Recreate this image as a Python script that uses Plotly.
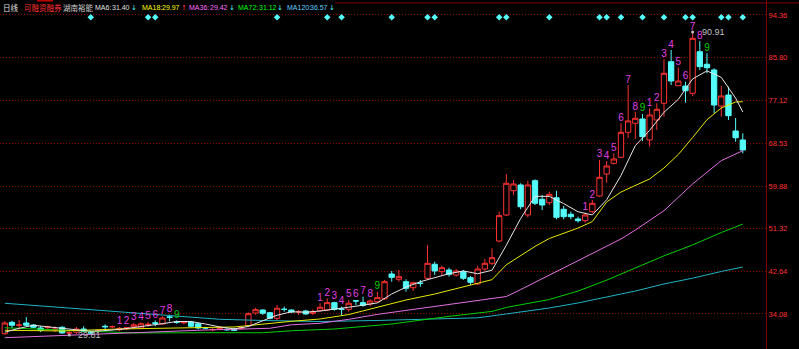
import plotly.graph_objects as go

# ---------------- data ----------------
days = list(range(104))
opens = [30.10, 32.40, 31.80, 32.26, 31.86, 31.26, 31.30, 30.80, 31.40, 30.25,
         30.40, 31.05, 30.30, 30.60, 31.60, 31.50, 30.90, 31.10, 31.50, 31.26,
         31.90, 32.30, 32.06, 33.50, 32.50, 32.30, 32.46, 32.10, 31.30, 30.90,
         31.10, 31.00, 31.05, 31.20, 31.70, 34.28, 34.88, 34.34, 33.21, 35.05,
         34.88, 34.50, 34.68, 34.22, 34.75, 34.88, 36.36, 35.10, 35.02, 36.75,
         36.36, 36.10, 36.56, 37.14, 42.14, 41.07, 40.59, 39.38, 40.30, 41.27,
         44.10, 42.61, 42.95, 41.94, 42.61, 41.40, 40.14, 43.15, 44.30, 48.79,
         54.04, 58.93, 60.09, 54.04, 60.95, 57.20, 56.52, 57.52, 55.19, 54.18,
         53.23, 52.89, 54.70, 57.87, 62.30, 64.46, 65.67, 70.71, 72.52, 73.39,
         69.16, 73.19, 76.56, 84.94, 80.10, 80.04, 78.57, 86.96, 84.42, 83.27,
         76.01, 78.23, 70.97, 69.16]
highs = [32.66, 32.70, 32.90, 33.45, 32.05, 31.66, 31.70, 31.60, 31.60, 30.60,
         31.46, 31.60, 30.70, 31.00, 32.00, 31.80, 31.46, 31.46, 32.30, 32.40,
         32.50, 32.80, 33.60, 33.95, 32.80, 32.60, 32.70, 32.30, 31.50, 31.30,
         31.60, 31.20, 31.30, 31.60, 34.40, 35.30, 35.00, 34.50, 35.89, 35.55,
         35.00, 34.88, 34.90, 35.02, 36.24, 37.24, 36.56, 35.55, 36.90, 36.90,
         37.57, 37.04, 38.58, 40.94, 42.75, 42.95, 41.07, 40.59, 40.94, 47.99,
         44.62, 43.81, 43.41, 43.15, 42.95, 41.74, 43.81, 45.17, 47.32, 54.70,
         62.30, 61.10, 60.43, 60.95, 61.23, 58.07, 58.73, 58.93, 55.85, 54.70,
         53.70, 54.50, 57.06, 65.13, 64.92, 66.47, 72.52, 80.24, 74.80, 74.40,
         75.55, 76.56, 85.43, 87.30, 83.73, 80.91, 90.91, 89.10, 86.63, 83.61,
         80.04, 79.90, 73.60, 70.50]
lows = [29.90, 31.25, 30.90, 31.60, 31.25, 30.45, 31.10, 30.40, 30.10, 29.84,
        30.05, 30.40, 29.90, 30.30, 30.60, 31.20, 30.60, 30.80, 31.00, 31.00,
        31.50, 31.60, 31.90, 32.60, 32.10, 32.00, 31.40, 31.00, 31.00, 30.60,
        30.90, 30.70, 30.60, 30.90, 31.46, 33.95, 33.90, 33.00, 32.87, 34.54,
        34.30, 33.88, 33.90, 33.88, 34.54, 34.68, 34.75, 33.88, 34.54, 35.89,
        35.55, 35.69, 36.36, 36.90, 40.59, 40.59, 38.58, 38.72, 39.58, 40.94,
        41.94, 41.74, 41.60, 41.60, 40.94, 39.93, 39.93, 42.75, 43.95, 48.53,
        53.80, 58.07, 55.19, 53.57, 56.05, 55.05, 56.05, 53.17, 53.17, 53.17,
        52.49, 52.49, 54.38, 57.67, 60.55, 64.20, 65.50, 69.56, 69.36, 68.96,
        67.80, 71.17, 73.86, 80.24, 80.04, 76.68, 78.03, 83.27, 82.60, 74.54,
        73.86, 73.19, 68.81, 66.47]
closes = [32.26, 31.80, 31.85, 31.80, 31.40, 30.80, 31.45, 31.05, 30.25, 30.30,
          31.05, 30.60, 30.25, 30.70, 31.50, 31.52, 31.20, 31.30, 31.90, 32.10,
          32.00, 32.20, 33.27, 33.40, 32.40, 32.45, 31.60, 31.26, 31.25, 30.95,
          31.30, 30.90, 30.80, 31.25, 34.14, 34.95, 34.22, 33.21, 35.23, 35.00,
          34.48, 34.56, 34.08, 34.54, 35.43, 36.36, 35.02, 35.02, 36.24, 36.70,
          35.83, 36.70, 37.37, 40.59, 41.47, 41.60, 39.26, 40.39, 40.25, 44.30,
          42.75, 43.41, 42.08, 42.75, 41.27, 40.47, 43.15, 44.30, 45.43, 53.90,
          60.43, 60.29, 55.71, 60.09, 56.40, 56.05, 58.20, 53.57, 53.70, 53.70,
          52.89, 54.04, 56.40, 61.64, 63.92, 65.33, 70.71, 73.00, 73.53, 69.82,
          74.20, 75.35, 82.60, 81.05, 81.05, 79.09, 89.66, 83.94, 83.73, 76.21,
          78.03, 74.06, 69.62, 67.14]

# moving averages
ma6_days = list(range(0, 104, 2)) + [103]
ma6 = [30.4, 31.2, 31.8, 31.52, 31.13, 30.82, 30.58, 30.73, 30.96, 31.35,
       31.67, 32.13, 32.56, 32.55, 32.06, 31.47, 31.08, 31.56, 32.71, 33.83,
       34.52, 34.43, 34.68, 35.00, 35.44, 35.86, 36.31, 38.11, 39.50, 40.59,
       41.43, 42.20, 42.76, 42.19, 42.90, 47.95, 53.34, 57.80, 57.79, 56.34,
       54.69, 54.05, 57.10, 62.00, 68.02, 71.10, 74.75, 77.35, 81.47, 83.09,
       81.78, 77.60, 74.80]
ma18_days = [0, 8, 16, 24, 32, 40, 44, 48, 52, 56, 60, 64, 68, 70, 72, 74, 76, 78,
             80, 82, 84, 86, 88, 90, 92, 94, 96, 98, 100, 102, 103]
ma18 = [30.8, 30.65, 31.05, 31.3, 31.46, 32.6, 33.07, 33.97, 35.5, 36.9, 38.1,
        39.5, 41.0, 44.0, 45.9, 47.7, 49.3, 50.4, 51.4, 52.7, 56.66, 58.67, 59.98,
        61.3, 63.51, 66.23, 69.66, 73.25, 75.61, 76.82, 76.88]
ma36_days = [0, 9, 14, 18, 23, 28, 32, 37, 40, 44, 48, 52, 56, 60, 64, 68, 70, 72,
             76, 80, 83, 86, 88, 92, 96, 98, 100, 103]
ma36 = [29.3, 29.8, 30.2, 30.3, 30.65, 30.85, 31.0, 31.2, 31.9, 32.2, 33.0, 34.0,
        34.8, 35.6, 36.4, 37.2, 37.6, 39.0, 41.9, 44.76, 46.9, 49.2, 51.0, 54.9,
        60.3, 62.6, 65.0, 67.0]
ma72_days = [0, 5, 12, 18, 28, 36, 40, 46, 54, 62, 68, 70, 76, 80, 84, 88, 92, 96,
             100, 103]
ma72 = [31.3, 31.0, 30.5, 30.25, 30.3, 30.3, 30.7, 31.05, 32.06, 33.6, 34.6, 35.4,
        37.0, 38.7, 40.9, 43.3, 45.8, 48.0, 50.5, 52.2]
ma120_days = [0, 4, 10, 16, 18, 22, 26, 30, 36, 44, 52, 60, 66, 70, 76, 80, 84, 88,
              92, 96, 100, 103]
ma120 = [36.24, 35.79, 35.19, 34.58, 34.28, 33.77, 33.37, 33.01, 32.77, 32.56,
         32.77, 33.07, 33.31, 34.08, 35.29, 36.3, 37.5, 38.7, 40.13, 41.3, 42.65,
         43.55]

# TD sequential counts
td_days = list(range(16, 25)) + list(range(44, 53)) + list(range(81, 90)) + list(range(90, 99))
td_text = [str(k) for k in range(1, 10)] * 4

signal_days = [12, 20, 21, 38, 45, 47, 54, 59, 60, 69, 70, 76, 83, 84, 86, 89, 92,
               95, 96, 100, 101, 103]

tick_vals = [94.36, 85.80, 77.12, 68.53, 59.88, 51.32, 42.64, 34.08]
tick_text = ["94.36", "85.80", "77.12", "68.53", "59.88", "51.32", "42.64", "34.08"]

high_label = "90.91"
low_label = "29.81"

header = [("日线", "#e0e0e0"), ("可融资融券", "#ff3232"), ("湖南裕能", "#d0d0d0")]
header_x = [1, 22, 61]
ma_names = ["MA6:", "MA18:", "MA36:", "MA72:", "MA120:"]
ma_values = ["31.40", "29.97", "29.42", "31.12", "36.57"]
ma_arrows = ["↓", "↑", "↓", "↓", "↓"]
ma_colors = ["#e0e0e0", "#ffff00", "#ff70ff", "#00ff00", "#60d0ff"]
arrow_colors = ["#54fcfc", "#ff3232", "#54fcfc", "#54fcfc", "#54fcfc"]
name_x = [93, 140, 187, 236, 285]
value_x = [110, 160, 208, 257, 308]
arrow_x = [129, 179, 227, 275, 327]

# ---------------- figure ----------------
W, H = 799, 349
plot_right = 766
ymax, ymin = 97.38, 27.02
signal_row_px = 17.3

fig = go.Figure()

fig.add_trace(go.Scatter(x=ma120_days, y=ma120, mode="lines",
                         line=dict(color="#1fb4c4", width=1), hoverinfo="skip"))
fig.add_trace(go.Scatter(x=ma72_days, y=ma72, mode="lines",
                         line=dict(color="#00d000", width=1), hoverinfo="skip"))
fig.add_trace(go.Scatter(x=ma36_days, y=ma36, mode="lines",
                         line=dict(color="#e070e0", width=1), hoverinfo="skip"))
fig.add_trace(go.Scatter(x=ma18_days, y=ma18, mode="lines",
                         line=dict(color="#e8e800", width=1), hoverinfo="skip"))

fig.add_trace(go.Candlestick(
    x=days, open=opens, high=highs, low=lows, close=closes,
    increasing=dict(line=dict(color="#ff3232", width=1), fillcolor="#000000"),
    decreasing=dict(line=dict(color="#54fcfc", width=1), fillcolor="#54fcfc"),
    whiskerwidth=0, hoverinfo="skip"))

fig.add_trace(go.Scatter(x=ma6_days, y=ma6, mode="lines",
                         line=dict(color="#e6e6e6", width=1), hoverinfo="skip"))

# TD counts
td_y = [highs[d] for d in td_days]
td_col = ["#00d000" if t == "9" else "#e040e0" for t in td_text]
fig.add_trace(go.Scatter(x=td_days, y=td_y, mode="text", text=td_text,
                         textposition="top center",
                         textfont=dict(family="Liberation Sans", size=10, color=td_col),
                         hoverinfo="skip"))

# high / low labels
hi_day = max(days, key=lambda d: highs[d])
lo_day = min(days, key=lambda d: lows[d])
for d, v, lab in [(hi_day, highs[hi_day], high_label), (lo_day, lows[lo_day], low_label)]:
    fig.add_trace(go.Scatter(x=[d], y=[v], mode="markers",
                             marker=dict(color="#c0c0c0", size=3),
                             hoverinfo="skip"))
    fig.add_annotation(x=d, y=v, xref="x", yref="y", text=lab, showarrow=False,
                       xanchor="left", yanchor="middle", xshift=7,
                       font=dict(family="Liberation Sans", size=9, color="#c0c0c0"))

# signal row (own axis, fixed row near the top)
fig.add_trace(go.Scatter(x=signal_days, y=[1] * len(signal_days), yaxis="y2",
                         mode="markers",
                         marker=dict(symbol="diamond", size=5, color="#54fcfc"),
                         hoverinfo="skip"))

fig.update_layout(
    width=W, height=H, margin=dict(l=0, r=0, t=0, b=0),
    paper_bgcolor="#000000", plot_bgcolor="#000000",
    showlegend=False, boxgap=0.26, boxgroupgap=0,
    xaxis=dict(domain=[0, plot_right / W], range=[-0.67, 106.24], visible=False,
               rangeslider=dict(visible=False), fixedrange=True),
    yaxis=dict(range=[ymin, ymax], side="right", showline=True, linecolor="#800000",
               linewidth=1, ticks="", tickvals=tick_vals, ticktext=tick_text,
               tickfont=dict(family="Liberation Sans", size=7.5, color="#ff3232"),
               showgrid=True, gridcolor="#800000", griddash="1px,2px", gridwidth=1,
               zeroline=False, fixedrange=True),
    yaxis2=dict(overlaying="y", range=[0, H / (H - signal_row_px)], visible=False,
                fixedrange=True),
)

# top border and tab mark
fig.add_shape(type="line", xref="paper", yref="paper", x0=335 / W, x1=1,
              y0=1 - 3 / H, y1=1 - 3 / H, line=dict(color="#800000", width=1))
fig.add_shape(type="line", xref="paper", yref="paper", x0=37 / W, x1=53 / W,
              y0=1 - 0.5 / H, y1=1 - 0.5 / H, line=dict(color="#c00000", width=2))

# header texts
hy = 1 - 8 / H
for (t, c), x in zip(header, header_x):
    fig.add_annotation(x=x / W, y=hy, xref="paper", yref="paper", text=t,
                       showarrow=False, xanchor="left", yanchor="middle",
                       font=dict(family="Noto Sans CJK SC", size=7.5, color=c))
for n, v, a, c, ac, nx, vx, ax in zip(ma_names, ma_values, ma_arrows, ma_colors,
                                      arrow_colors, name_x, value_x, arrow_x):
    fig.add_annotation(x=nx / W, y=hy, xref="paper", yref="paper", text=n,
                       showarrow=False, xanchor="left", yanchor="middle",
                       font=dict(family="Liberation Sans", size=7, color=c))
    fig.add_annotation(x=vx / W, y=hy, xref="paper", yref="paper", text=v,
                       showarrow=False, xanchor="left", yanchor="middle",
                       font=dict(family="Liberation Sans", size=7, color=c))
    fig.add_annotation(x=ax / W, y=hy, xref="paper", yref="paper", text=a,
                       showarrow=False, xanchor="left", yanchor="middle",
                       font=dict(family="DejaVu Sans", size=7, color=ac))

fig.write_html("out.html")
